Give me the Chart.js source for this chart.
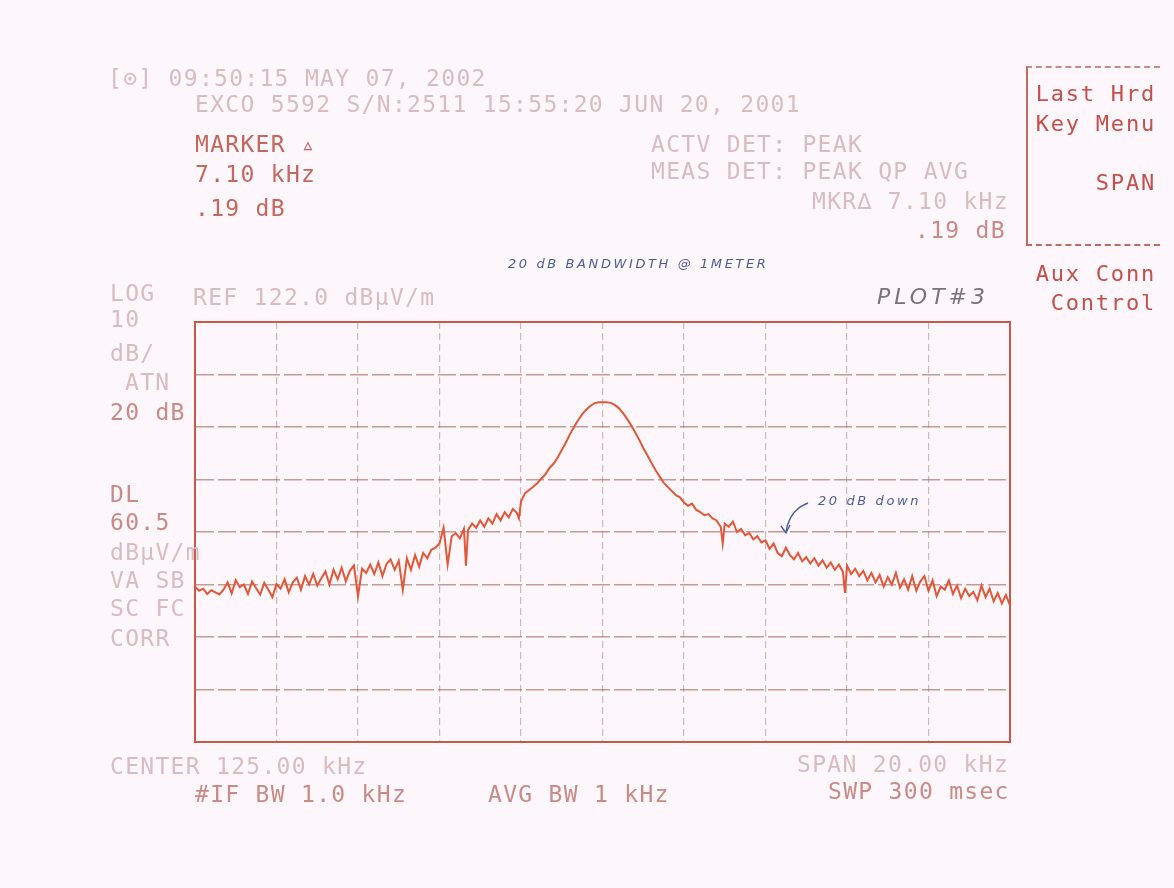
<!DOCTYPE html>
<html>
<head>
<meta charset="utf-8">
<script src="https://cdn.jsdelivr.net/npm/chart.js@4.4.1/dist/chart.umd.min.js"></script>
<style>
  html, body { margin: 0; padding: 0; background: #fdf7fb; }
  #page { position: relative; width: 1174px; height: 888px; overflow: hidden; background: #fdf7fb; }
  #plotBox { position: absolute; left: 0; top: 0; width: 1174px; height: 888px; }
  .t { position: absolute; font-family: "DejaVu Sans Mono", monospace; font-size: 23px; line-height: 1;
       letter-spacing: 1.3px; white-space: pre; color: #c4685f; }
  .faint { color: #d8bcc0; }
  .mid { color: #c98a88; }
  .menu { font-size: 22px; letter-spacing: 1.8px; color: #c2504c; text-align: right; }
  .hand { font-family: "DejaVu Sans", sans-serif; font-style: italic; color: #4a5d9c; font-size: 13px;
          letter-spacing: 2.6px; }
  .plotno { font-family: "DejaVu Sans", sans-serif; font-style: italic; color: #7a7274; font-size: 22px;
            letter-spacing: 4px; }
  #menuFrame { position: absolute; left: 1026px; top: 66px; width: 132px; height: 176px;
               border-left: 2px solid #c06a66; border-top: 2px dashed #c88a88; border-bottom: 2px dashed #c06a66; }
</style>
</head>
<body>
<div id="page">
  <div id="plotBox"><canvas id="spectrum"></canvas></div>

  <!-- header lines from the analyzer printout -->
  <div class="t faint" style="left:108px; top:67px;">[⊙] 09:50:15 MAY 07, 2002</div>
  <div class="t faint" style="left:195px; top:93px;">EXCO 5592 S/N:2511 15:55:20 JUN 20, 2001</div>
  <div class="t" style="left:195px; top:133px;">MARKER ▵</div>
  <div class="t" style="left:195px; top:163px;">7.10 kHz</div>
  <div class="t" style="left:195px; top:197px;">.19 dB</div>

  <div class="t faint" style="left:651px; top:133px;">ACTV DET: PEAK</div>
  <div class="t faint" style="left:651px; top:160px;">MEAS DET: PEAK QP AVG</div>
  <div class="t faint" style="left:812px; top:190px;">MKR∆ 7.10 kHz</div>
  <div class="t mid" style="left:915px; top:219px;">.19 dB</div>

  <!-- left column -->
  <div class="t faint" style="left:110px; top:282px;">LOG</div>
  <div class="t faint" style="left:110px; top:308px;">10</div>
  <div class="t faint" style="left:110px; top:342px;">dB/</div>
  <div class="t faint" style="left:125px; top:371px;">ATN</div>
  <div class="t mid" style="left:110px; top:401px;">20 dB</div>
  <div class="t mid" style="left:110px; top:483px;">DL</div>
  <div class="t mid" style="left:110px; top:511px;">60.5</div>
  <div class="t faint" style="left:110px; top:541px;">dBµV/m</div>
  <div class="t faint" style="left:110px; top:569px;">VA SB</div>
  <div class="t faint" style="left:110px; top:597px;">SC FC</div>
  <div class="t faint" style="left:110px; top:627px;">CORR</div>

  <div class="t faint" style="left:193px; top:286px;">REF 122.0 dBµV/m</div>

  <!-- bottom lines -->
  <div class="t faint" style="left:110px; top:755px;">CENTER 125.00 kHz</div>
  <div class="t mid" style="left:195px; top:783px;">#IF BW 1.0 kHz</div>
  <div class="t mid" style="left:488px; top:783px;">AVG BW 1 kHz</div>
  <div class="t faint" style="left:797px; top:753px;">SPAN 20.00 kHz</div>
  <div class="t mid" style="left:828px; top:780px;">SWP 300 msec</div>

  <!-- softkey menu -->
  <div id="menuFrame"></div>
  <div class="t menu" style="right:18px; top:83px;">Last Hrd</div>
  <div class="t menu" style="right:18px; top:113px;">Key Menu</div>
  <div class="t menu" style="right:18px; top:172px;">SPAN</div>
  <div class="t menu" style="right:18px; top:263px;">Aux Conn</div>
  <div class="t menu" style="right:18px; top:292px;">Control</div>

  <!-- handwritten notes -->
  <div class="t hand" style="left:508px; top:257px;">20 dB BANDWIDTH @ 1METER</div>
  <div class="t plotno" style="left:877px; top:286px;">PLOT#3</div>
  <div class="t hand" style="left:818px; top:494px;">20 dB down</div>
  <svg style="position:absolute; left:0; top:0;" width="1174" height="888">
    <path d="M808 503 C 795 508, 788 518, 786 532" fill="none" stroke="#4a5d9c" stroke-width="1.4"/>
    <path d="M781 526 L786 533 L790 525" fill="none" stroke="#4a5d9c" stroke-width="1.4"/>
  </svg>
</div>

<script>
// trace: offset from center (kHz) and level (dBuV/m)
const freqOffset = [
  -10.0, -9.9, -9.8, -9.7, -9.6, -9.5, -9.4, -9.3, -9.2, -9.1,
  -9.0, -8.9, -8.8, -8.7, -8.6, -8.5, -8.4, -8.3, -8.2, -8.1,
  -8.0, -7.9, -7.8, -7.7, -7.6, -7.5, -7.4, -7.3, -7.2, -7.1,
  -7.0, -6.9, -6.8, -6.7, -6.6, -6.5, -6.4, -6.3, -6.2, -6.1,
  -6.0, -5.9, -5.8, -5.7, -5.6, -5.5, -5.4, -5.3, -5.2, -5.1,
  -5.0, -4.9, -4.8, -4.7, -4.6, -4.5, -4.4, -4.3, -4.2, -4.1,
  -4.0, -3.9, -3.8, -3.7, -3.6, -3.5, -3.4, -3.35, -3.3, -3.2,
  -3.1, -3.0, -2.9, -2.8, -2.7, -2.6, -2.5, -2.4, -2.3, -2.2,
  -2.1, -2.05, -2.0, -1.9, -1.8, -1.7, -1.6, -1.5, -1.4, -1.3,
  -1.2, -1.1, -1.0, -0.9, -0.8, -0.7, -0.6, -0.5, -0.4, -0.3,
  -0.2, -0.1, 0.0, 0.1, 0.2, 0.3, 0.4, 0.5, 0.6, 0.7,
  0.8, 0.9, 1.0, 1.1, 1.2, 1.3, 1.4, 1.5, 1.6, 1.7,
  1.8, 1.9, 2.0, 2.1, 2.2, 2.3, 2.4, 2.5, 2.6, 2.7,
  2.8, 2.9, 2.95, 3.0, 3.1, 3.2, 3.3, 3.4, 3.5, 3.6,
  3.7, 3.8, 3.9, 4.0, 4.1, 4.2, 4.3, 4.4, 4.5, 4.6,
  4.7, 4.8, 4.9, 5.0, 5.1, 5.2, 5.3, 5.4, 5.5, 5.6,
  5.7, 5.8, 5.9, 5.95, 6.0, 6.1, 6.2, 6.3, 6.4, 6.5,
  6.6, 6.7, 6.8, 6.9, 7.0, 7.1, 7.2, 7.3, 7.4, 7.5,
  7.6, 7.7, 7.8, 7.9, 8.0, 8.1, 8.2, 8.3, 8.4, 8.5,
  8.6, 8.7, 8.8, 8.9, 9.0, 9.1, 9.2, 9.3, 9.4, 9.5,
  9.6, 9.7, 9.8, 9.9, 10.0
];
const levelDbuv = [
  71.6, 70.8, 71.2, 70.2, 70.9, 70.5, 70.1, 71.0, 72.4, 70.3,
  72.8, 71.5, 72.0, 70.2, 72.6, 71.3, 70.1, 72.3, 71.0, 69.6,
  72.1, 71.2, 73.0, 70.5, 72.4, 73.3, 71.0, 73.6, 72.0, 74.0,
  71.8, 73.2, 74.5, 72.0, 74.8, 73.0, 75.2, 72.6, 74.6, 75.6,
  69.8, 75.0, 74.2, 75.8, 74.0, 76.2, 73.6, 75.9, 76.8, 74.8,
  76.5, 71.0, 77.0, 74.8, 77.6, 75.4, 78.0, 77.0, 78.6, 79.0,
  79.8, 82.8, 75.8, 81.2, 81.8, 80.8, 82.6, 75.6, 82.4, 83.6,
  82.8, 84.2, 83.0, 84.6, 83.6, 85.4, 84.2, 85.8, 84.8, 86.4,
  85.6, 84.6, 87.8, 89.4, 90.0, 90.6, 91.3, 92.2, 93.0, 94.2,
  95.0, 96.2, 97.6, 99.0, 100.6, 102.0, 103.3, 104.4, 105.3, 106.0,
  106.5, 106.7, 106.7, 106.7, 106.6, 106.2, 105.6, 104.7, 103.6, 102.4,
  101.0, 99.6, 98.0, 96.6, 95.2, 93.8, 92.6, 91.4, 90.6, 89.8,
  89.0, 88.6, 87.6, 87.0, 87.4, 86.2, 85.8, 85.2, 85.4, 84.6,
  84.2, 83.0, 79.8, 83.6, 83.0, 84.0, 82.0, 82.6, 81.4, 81.8,
  80.6, 81.2, 80.0, 80.4, 78.8, 79.8, 78.0, 77.4, 79.0, 77.6,
  76.8, 78.0, 76.4, 77.2, 76.0, 77.0, 75.6, 76.6, 75.2, 76.2,
  74.8, 75.8, 74.4, 70.4, 75.6, 74.0, 75.0, 73.6, 74.6, 72.8,
  74.2, 72.4, 73.8, 71.6, 73.4, 72.0, 74.2, 71.4, 73.0, 71.0,
  73.6, 70.8, 72.6, 73.6, 70.8, 72.8, 69.8, 71.6, 71.0, 72.8,
  70.2, 71.8, 69.4, 71.2, 69.8, 70.6, 69.0, 71.8, 69.6, 71.2,
  68.8, 70.4, 68.4, 70.0, 68.0
];

// screen layout: REF 122 dBuV/m, 10 dB/div, 8 divisions; span 20 kHz
const refLevel = 122;
const dbPerDiv = 10;
const divisionsY = 8;
const spanKhz = 20;

const tracePoints = freqOffset.map((f, i) => ({ x: f, y: levelDbuv[i] }));

new Chart(document.getElementById('spectrum'), {
  type: 'line',
  data: {
    datasets: [{
      data: tracePoints,
      borderColor: '#e1573a',
      borderWidth: 2,
      pointRadius: 0,
      tension: 0,
      fill: false
    }]
  },
  options: {
    responsive: true,
    maintainAspectRatio: false,
    animation: false,
    events: [],
    layout: { padding: { left: 195, top: 322, right: 164, bottom: 146 } },
    plugins: { legend: { display: false }, tooltip: { enabled: false } },
    scales: {
      x: {
        type: 'linear',
        min: -spanKhz / 2,
        max: spanKhz / 2,
        ticks: { display: false, stepSize: 2 },
        // vertical grid lines: fine, faint dashes
        grid: { color: 'rgba(170, 120, 110, 0.5)', lineWidth: 1.2, drawTicks: false },
        border: { display: true, color: '#c9584a', width: 2, dash: [7, 4] }
      },
      y: {
        type: 'linear',
        min: refLevel - dbPerDiv * divisionsY,
        max: refLevel,
        ticks: { display: false, stepSize: dbPerDiv },
        // horizontal grid lines: longer, darker dashes
        grid: { color: 'rgba(160, 95, 80, 0.6)', lineWidth: 1.5, drawTicks: false },
        border: { display: true, color: '#c9584a', width: 2, dash: [18, 4] }
      },
      xTop: {
        type: 'linear', position: 'top', min: 0, max: 1,
        ticks: { display: false }, grid: { display: false, drawTicks: false },
        border: { display: true, color: '#c9584a', width: 2 }
      },
      yRight: {
        type: 'linear', position: 'right', min: 0, max: 1,
        ticks: { display: false }, grid: { display: false, drawTicks: false },
        border: { display: true, color: '#c9584a', width: 2 }
      }
    }
  }
});
</script>
</body>
</html>
